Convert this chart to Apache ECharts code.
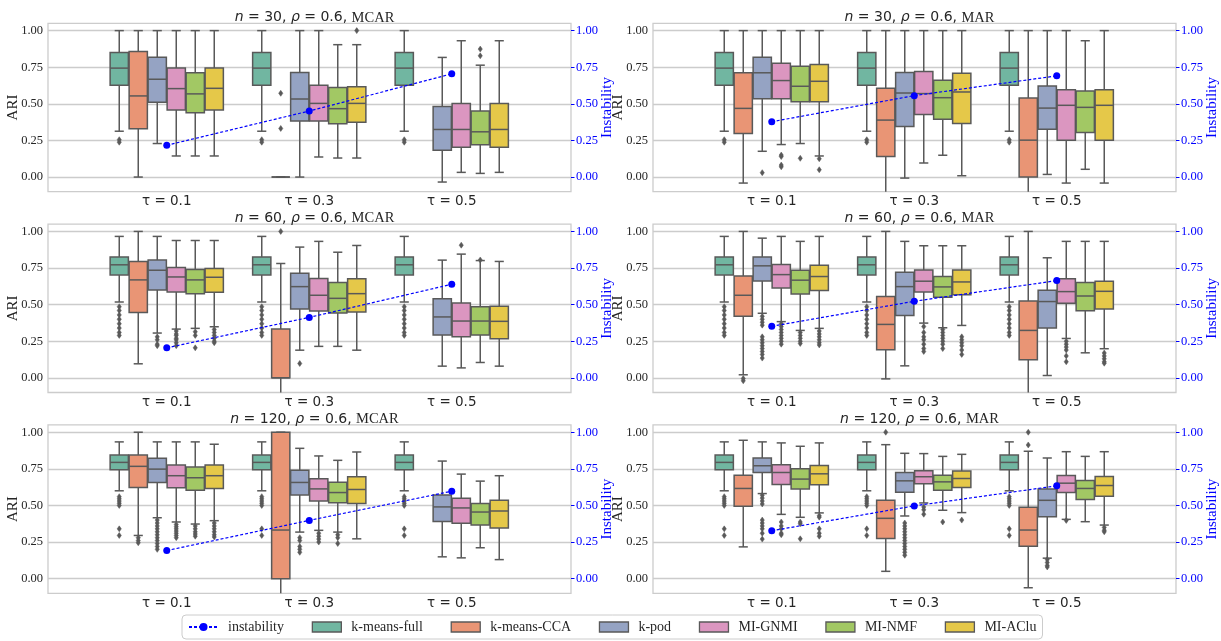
<!DOCTYPE html>
<html><head><meta charset="utf-8">
<script src="https://cdn.jsdelivr.net/npm/echarts@6/dist/echarts.min.js"></script>
<style>html,body{margin:0;padding:0;background:#fff}#c{width:1221px;height:641px}</style>
</head><body><div id="c"></div>
<script>
// ---------- data ----------
const methods = ['k-means-full','k-means-CCA','k-pod','MI-GNMI','MI-NMF','MI-AClu'];
const tauLabels = ['τ = 0.1','τ = 0.3','τ = 0.5'];
const yTicks = [0, 0.25, 0.5, 0.75, 1.0];
const panelN = [30, 30, 60, 60, 120, 120];
const panelMech = ['MCAR','MAR','MCAR','MAR','MCAR','MAR'];
const rhoValue = 0.6;

// box stats: [min whisker, q1, median, q3, max whisker]; per method, per tau
const full30 = [0.313, 0.627, 0.744, 0.851, 1.00];
const full30Out = [0.255, 0.238];
const full60 = [0.518, 0.703, 0.772, 0.826, 0.966];
const full60Out = [0.486, 0.46, 0.43, 0.40, 0.37, 0.34, 0.31, 0.29];
const full120 = [0.600, 0.744, 0.794, 0.844, 0.934];
const full120Out = [0.56, 0.545, 0.53, 0.515, 0.50, 0.34, 0.295];

const boxes_n30_MCAR = [
  [full30, full30, full30],
  [[0.00,0.330,0.554,0.858,1.00],[0,0,0,0,0],null],
  [[0.229,0.510,0.668,0.819,1.00],[0.0,0.382,0.533,0.714,1.00],[-0.034,0.183,0.325,0.481,0.817]],
  [[0.144,0.458,0.604,0.744,1.00],[0.137,0.382,0.503,0.627,1.00],[0.032,0.204,0.325,0.503,0.931]],
  [[0.144,0.439,0.568,0.712,1.00],[0.130,0.364,0.467,0.611,0.904],[0.025,0.220,0.309,0.451,0.764]],
  [[0.144,0.458,0.606,0.744,1.00],[0.130,0.375,0.503,0.616,0.904],[0.032,0.204,0.325,0.503,0.931]]
];
const out_n30_MCAR = [[1,1,0.572],[1,1,0.332],[1,5,1.0],[2,4,0.874],[2,4,0.828]];
const inst_n30_MCAR = [0.217, 0.451, 0.705];

const boxes_n30_MAR = [
  [full30, full30, full30],
  [[-0.041,0.297,0.469,0.712,1.00],[-0.15,0.140,0.389,0.606,1.00],[-0.15,0.0,0.252,0.540,1.00]],
  [[0.176,0.535,0.712,0.819,1.00],[-0.007,0.346,0.574,0.714,1.00],[0.018,0.327,0.471,0.622,1.00]],
  [[0.222,0.535,0.659,0.778,1.00],[0.096,0.428,0.570,0.721,1.00],[-0.041,0.252,0.490,0.597,1.00]],
  [[0.229,0.515,0.620,0.757,1.00],[0.149,0.394,0.542,0.661,1.00],[0.053,0.304,0.476,0.588,0.931]],
  [[0.144,0.515,0.654,0.769,1.00],[0.009,0.366,0.581,0.709,1.00],[-0.041,0.252,0.490,0.597,1.00]]
];
const out_n30_MAR = [[0,2,0.030],[0,3,0.150],[0,3,0.140],[0,3,0.082],[0,3,0.070],[0,4,0.128],[0,5,0.125],[0,5,0.050]];
const inst_n30_MAR = [0.378, 0.556, 0.691];

const boxes_n60_MCAR = [
  [full60, full60, full60],
  [[0.096,0.447,0.669,0.795,1.00],[-0.15,0.0,0.0,0.333,0.781],null],
  [[0.306,0.600,0.735,0.804,0.966],[0.189,0.470,0.623,0.715,0.893],[0.080,0.292,0.416,0.541,0.804]],
  [[0.333,0.587,0.689,0.753,0.938],[0.215,0.457,0.564,0.678,0.932],[0.068,0.281,0.388,0.511,0.845]],
  [[0.338,0.575,0.669,0.740,0.938],[0.215,0.443,0.543,0.651,0.858],[0.105,0.292,0.388,0.486,0.801]],
  [[0.349,0.584,0.687,0.747,0.938],[0.189,0.450,0.575,0.676,0.904],[0.080,0.267,0.386,0.489,0.795]]
];
const out_n60_MCAR = [[1,1,1.0],[0,2,0.28],[0,2,0.26],[0,2,0.23],[0,2,0.22],[1,2,0.098],
  [0,3,0.32],[0,3,0.30],[0,3,0.29],[0,3,0.27],[0,3,0.26],[0,3,0.24],[0,3,0.22],
  [0,4,0.315],[0,4,0.29],[0,4,0.205],
  [0,5,0.33],[0,5,0.31],[0,5,0.29],[0,5,0.27],[0,5,0.25],[0,5,0.24],
  [2,3,0.906],[2,4,0.805]];
const inst_n60_MCAR = [0.205, 0.413, 0.639];

const boxes_n60_MAR = [
  [full60, full60, full60],
  [[0.021,0.420,0.564,0.696,1.00],[-0.007,0.192,0.365,0.555,1.00],[-0.15,0.123,0.324,0.525,1.00]],
  [[0.441,0.662,0.765,0.826,0.954],[0.082,0.425,0.623,0.721,0.932],[0.016,0.340,0.521,0.598,0.820]],
  [[0.384,0.614,0.705,0.774,0.966],[0.374,0.587,0.660,0.737,0.902],[0.269,0.509,0.589,0.676,0.932]],
  [[0.324,0.573,0.667,0.735,0.932],[0.342,0.550,0.621,0.692,0.902],[0.171,0.459,0.559,0.651,0.932]],
  [[0.338,0.596,0.692,0.769,0.966],[0.358,0.568,0.655,0.737,0.902],[0.199,0.470,0.591,0.660,0.932]]
];
const out_n60_MAR = [[0,1,-0.005],[0,1,-0.02],
  [0,2,0.42],[0,2,0.40],[0,2,0.38],[0,2,0.36],[0,2,0.28],[0,2,0.26],[0,2,0.24],[0,2,0.22],[0,2,0.20],[0,2,0.18],[0,2,0.16],[0,2,0.135],
  [0,3,0.37],[0,3,0.35],[0,3,0.33],[0,3,0.31],[0,3,0.29],[0,3,0.27],[0,3,0.25],[0,3,0.23],
  [0,4,0.31],[0,4,0.29],[0,4,0.27],[0,4,0.25],[0,4,0.235],
  [0,5,0.32],[0,5,0.30],[0,5,0.28],[0,5,0.26],[0,5,0.24],[0,5,0.225],
  [1,3,0.35],[1,3,0.31],[1,3,0.28],[1,3,0.26],[1,3,0.23],[1,3,0.20],[1,3,0.18],
  [1,4,0.33],[1,4,0.31],[1,4,0.29],[1,4,0.27],[1,4,0.25],[1,4,0.23],[1,4,0.20],
  [1,5,0.28],[1,5,0.26],[1,5,0.24],[1,5,0.22],[1,5,0.19],[1,5,0.16],
  [2,3,0.25],[2,3,0.23],[2,3,0.21],[2,3,0.19],[2,3,0.15],[2,3,0.11],
  [2,5,0.17],[2,5,0.15],[2,5,0.13],[2,5,0.11],[2,5,0.10]];
const inst_n60_MAR = [0.352, 0.523, 0.664];

const boxes_n120_MCAR = [
  [full120, full120, full120],
  [[0.295,0.622,0.767,0.844,1.00],[-0.15,0.0,0.332,1.00,1.00],null],
  [[0.416,0.657,0.748,0.822,0.934],[0.318,0.572,0.657,0.741,0.890],[0.149,0.391,0.490,0.572,0.803]],
  [[0.387,0.620,0.703,0.776,0.934],[0.330,0.531,0.613,0.682,0.838],[0.142,0.378,0.483,0.549,0.714]],
  [[0.373,0.604,0.689,0.762,0.934],[0.318,0.519,0.588,0.659,0.808],[0.211,0.366,0.455,0.513,0.666]],
  [[0.396,0.616,0.703,0.776,0.918],[0.272,0.513,0.609,0.696,0.865],[0.130,0.346,0.462,0.535,0.703]]
];
const out_n120_MCAR = [[0,1,0.28],[0,1,0.26],[0,1,0.245],
  [0,2,0.40],[0,2,0.38],[0,2,0.36],[0,2,0.34],[0,2,0.32],[0,2,0.30],[0,2,0.28],[0,2,0.26],[0,2,0.24],[0,2,0.22],[0,2,0.20],
  [0,3,0.37],[0,3,0.355],[0,3,0.34],[0,3,0.325],[0,3,0.31],[0,3,0.295],[0,3,0.28],
  [0,4,0.36],[0,4,0.34],[0,4,0.32],[0,4,0.305],[0,4,0.29],
  [0,5,0.38],[0,5,0.36],[0,5,0.34],[0,5,0.32],[0,5,0.30],[0,5,0.285],
  [1,2,0.28],[1,2,0.26],[1,2,0.22],[1,2,0.20],[1,2,0.18],
  [1,3,0.31],[1,3,0.29],[1,3,0.27],[1,3,0.25],
  [1,4,0.30],[1,4,0.28],[1,4,0.24]];
const inst_n120_MCAR = [0.192, 0.398, 0.597];

const boxes_n120_MAR = [
  [full120, full120, full120],
  [[0.217,0.494,0.616,0.707,0.945],[0.050,0.275,0.412,0.535,0.915],[-0.062,0.222,0.332,0.487,0.870]],
  [[0.581,0.725,0.771,0.824,0.934],[0.428,0.590,0.668,0.725,0.856],[0.140,0.423,0.535,0.613,0.824]],
  [[0.439,0.643,0.725,0.778,0.927],[0.517,0.648,0.696,0.737,0.854],[0.405,0.588,0.652,0.705,0.867]],
  [[0.419,0.613,0.680,0.751,0.904],[0.467,0.604,0.661,0.707,0.835],[0.389,0.540,0.616,0.670,0.835]],
  [[0.449,0.641,0.716,0.773,0.927],[0.451,0.622,0.684,0.735,0.849],[0.366,0.563,0.636,0.698,0.867]]
];
const out_n120_MAR = [
  [0,2,0.57],[0,2,0.55],[0,2,0.53],[0,2,0.51],[0,2,0.40],[0,2,0.38],[0,2,0.36],[0,2,0.34],[0,2,0.31],[0,2,0.27],
  [0,3,0.387],[0,3,0.36],[0,3,0.34],[0,3,0.31],[0,3,0.30],
  [0,4,0.387],[0,4,0.375],[0,4,0.272],
  [0,5,0.43],[0,5,0.42],[0,5,0.34],[0,5,0.31],[0,5,0.29],
  [1,1,1.0],
  [1,2,0.38],[1,2,0.36],[1,2,0.34],[1,2,0.32],[1,2,0.30],[1,2,0.28],[1,2,0.26],[1,2,0.24],[1,2,0.22],[1,2,0.20],[1,2,0.18],[1,2,0.16],
  [1,3,0.49],[1,3,0.47],[1,3,0.44],[1,4,0.387],[1,5,0.40],
  [2,1,1.0],[2,1,0.913],[2,2,0.13],[2,2,0.11],[2,2,0.09],[2,2,0.08],[2,3,0.398],[2,5,0.35],[2,5,0.33],[2,5,0.32]];
const inst_n120_MAR = [0.327, 0.497, 0.634];

// ---------- styling / layout ----------
const colors = ['#71b6a1','#e99575','#95a3c3','#db96c0','#a2c864','#e5c849'];
const EDGE = '#595959';
const TEXT = '#262626';
const GRIDC = '#cccccc';
const INST = '#0000ff';
const FRAME_LEFT = [48, 653];
const FRAME_W = 523;
const ROW_TOP = [23.3, 224.1, 424.9];
const FRAME_H = 168.4;
const INNER_OFF = 47.5, INNER_W = 427.5;
const Y_MIN = -0.1, Y_MAX = 1.05;

const panelBoxes = [boxes_n30_MCAR, boxes_n30_MAR, boxes_n60_MCAR, boxes_n60_MAR, boxes_n120_MCAR, boxes_n120_MAR];
const panelOut = [out_n30_MCAR, out_n30_MAR, out_n60_MCAR, out_n60_MAR, out_n120_MCAR, out_n120_MAR];
const panelFullOut = [full30Out, full30Out, full60Out, full60Out, full120Out, full120Out];
const panelInst = [inst_n30_MCAR, inst_n30_MAR, inst_n60_MCAR, inst_n60_MAR, inst_n120_MCAR, inst_n120_MAR];

function boxRenderer(hue) {
  return function (params, api) {
    const ci = api.value(0);
    const band = api.size([1, 0])[0];
    const slot = band * 0.8 / 6;
    const cx = api.coord([ci, 0])[0] + (hue - 2.5) * slot;
    const w = slot * 0.96, hw = w / 2, cw = w / 4;
    const cs = params.coordSys;
    const clampY = v => Math.max(cs.y, Math.min(cs.y + cs.height, v));
    const y = i => clampY(api.coord([ci, api.value(i)])[1]);
    const yMin = y(1), yQ1 = y(2), yMed = y(3), yQ3 = y(4), yMax = y(5);
    const ls = { stroke: EDGE, lineWidth: 1.5 };
    const rawMin = api.coord([ci, api.value(1)])[1];
    const children = [
      { type: 'line', shape: { x1: cx, y1: yQ1, x2: cx, y2: yMin }, style: ls },
      { type: 'line', shape: { x1: cx, y1: yQ3, x2: cx, y2: yMax }, style: ls },
      { type: 'line', shape: { x1: cx - cw, y1: yMax, x2: cx + cw, y2: yMax }, style: ls },
      { type: 'rect', shape: { x: cx - hw, y: yQ3, width: w, height: yQ1 - yQ3 }, style: { fill: api.visual('color'), stroke: EDGE, lineWidth: 1.5 } },
      { type: 'line', shape: { x1: cx - hw, y1: yMed, x2: cx + hw, y2: yMed }, style: ls }
    ];
    if (rawMin <= cs.y + cs.height) {
      children.push({ type: 'line', shape: { x1: cx - cw, y1: yMin, x2: cx + cw, y2: yMin }, style: ls });
    }
    return { type: 'group', children };
  };
}
function outlierRenderer(params, api) {
  const ci = api.value(0), hue = api.value(1);
  const band = api.size([1, 0])[0];
  const slot = band * 0.8 / 6;
  const p = api.coord([ci, api.value(2)]);
  const cx = p[0] + (hue - 2.5) * slot, cy = p[1];
  return { type: 'polygon', shape: { points: [[cx, cy - 3], [cx + 2.1, cy], [cx, cy + 3], [cx - 2.1, cy]] }, style: { fill: EDGE, stroke: EDGE, lineWidth: 0.5 } };
}
const fmt = v => v.toFixed(2);

const grid = [], xAxis = [], yAxis = [], series = [], title = [];
for (let p = 0; p < 6; p++) {
  const col = p % 2, row = Math.floor(p / 2);
  const L = FRAME_LEFT[col], T = ROW_TOP[row];
  grid.push({ left: L, top: T, width: FRAME_W, height: FRAME_H, show: true, borderColor: GRIDC, borderWidth: 1.3, backgroundColor: 'transparent', outerBoundsMode: 'none', containLabel: false });
  grid.push({ left: L + INNER_OFF, top: T, width: INNER_W, height: FRAME_H, show: false, outerBoundsMode: 'none', containLabel: false });
  xAxis.push({ type: 'value', gridIndex: 2 * p, min: 0, max: 1, show: false });
  xAxis.push({ type: 'category', gridIndex: 2 * p + 1, data: tauLabels, boundaryGap: true,
    axisLine: { show: false }, axisTick: { show: false }, splitLine: { show: false },
    axisLabel: { fontFamily: 'DejaVu Sans', fontSize: 13.5, color: TEXT, margin: 3 } });
  yAxis.push({ type: 'value', gridIndex: 2 * p, position: 'left', min: Y_MIN, max: Y_MAX,
    axisLine: { show: false }, axisTick: { show: false, customValues: yTicks },
    axisLabel: { customValues: yTicks, formatter: fmt, fontFamily: 'Liberation Serif', fontSize: 12.5, color: TEXT, margin: 5 },
    splitLine: { show: true, lineStyle: { color: GRIDC, width: 1.3 } },
    name: 'ARI', nameLocation: 'middle', nameGap: 27, nameRotate: 90, nameMoveOverlap: false,
    nameTextStyle: { fontFamily: 'Liberation Serif', fontSize: 15, color: TEXT } });
  yAxis.push({ type: 'value', gridIndex: 2 * p, position: 'right', min: Y_MIN, max: Y_MAX,
    axisLine: { show: false }, axisTick: { show: true, length: 3.5, customValues: yTicks, lineStyle: { color: INST, width: 1 } },
    axisLabel: { customValues: yTicks, formatter: fmt, fontFamily: 'Liberation Serif', fontSize: 12.5, color: INST, margin: 5 },
    splitLine: { show: false },
    name: 'Instability', nameLocation: 'middle', nameGap: 29, nameRotate: 90, nameMoveOverlap: false,
    nameTextStyle: { fontFamily: 'Liberation Serif', fontSize: 15, color: INST } });
  yAxis.push({ type: 'value', gridIndex: 2 * p + 1, min: Y_MIN, max: Y_MAX, show: false, splitLine: { show: false } });

  const xi = 2 * p + 1, yi = 3 * p + 2;
  const bx = panelBoxes[p];
  for (let m = 0; m < 6; m++) {
    const rows = [];
    bx[m].forEach((s, ci) => { if (s) rows.push([ci].concat(s)); });
    series.push({ type: 'custom', name: methods[m], xAxisIndex: xi, yAxisIndex: yi, renderItem: boxRenderer(m),
      data: rows, encode: { x: 0, y: [1, 2, 3, 4, 5] }, itemStyle: { color: colors[m] }, z: 3, silent: true });
  }
  const outs = [];
  panelFullOut[p].forEach(v => { for (let ci = 0; ci < 3; ci++) outs.push([ci, 0, v]); });
  panelOut[p].forEach(o => outs.push(o));
  series.push({ type: 'custom', name: 'outliers', xAxisIndex: xi, yAxisIndex: yi, renderItem: outlierRenderer,
    data: outs, encode: { x: 0, y: 2 }, z: 4, silent: true });
  series.push({ type: 'line', name: 'instability', xAxisIndex: xi, yAxisIndex: yi, data: panelInst[p],
    symbol: 'circle', symbolSize: 7, itemStyle: { color: INST }, lineStyle: { color: INST, width: 1.2, type: [3, 2] }, z: 10, silent: true });

  title.push({
    text: '{i|n} = ' + panelN[p] + ', {i|ρ} = ' + rhoValue + ', {s|' + panelMech[p] + '}',
    left: L + FRAME_W / 2, top: T - 18, textAlign: 'center',
    textStyle: { fontFamily: 'DejaVu Sans', fontSize: 14, fontWeight: 'normal', color: TEXT,
      rich: { i: { fontFamily: 'DejaVu Sans', fontStyle: 'italic', fontSize: 14, color: TEXT },
              s: { fontFamily: 'Liberation Serif', fontSize: 14.5, color: TEXT } } }
  });
}

const legendData = [{ name: 'instability' }].concat(methods.map((m, i) => ({
  name: m, icon: 'rect', itemStyle: { color: colors[i], borderColor: EDGE, borderWidth: 1.3 } })));

const chart = echarts.init(document.getElementById('c'), null, { renderer: 'canvas' });
chart.setOption({
  animation: false,
  backgroundColor: '#ffffff',
  title, grid, xAxis, yAxis, series,
  legend: {
    data: legendData, left: 182, top: 615, orient: 'horizontal', selectedMode: false,
    itemWidth: 29, itemHeight: 10, itemGap: 27.7,
    padding: [5, 6, 5, 6], borderColor: GRIDC, borderWidth: 1, borderRadius: 4,
    textStyle: { fontFamily: 'Liberation Serif', fontSize: 14, color: TEXT, padding: [0, 0, 0, 5] }
  }
});
</script></body></html>
